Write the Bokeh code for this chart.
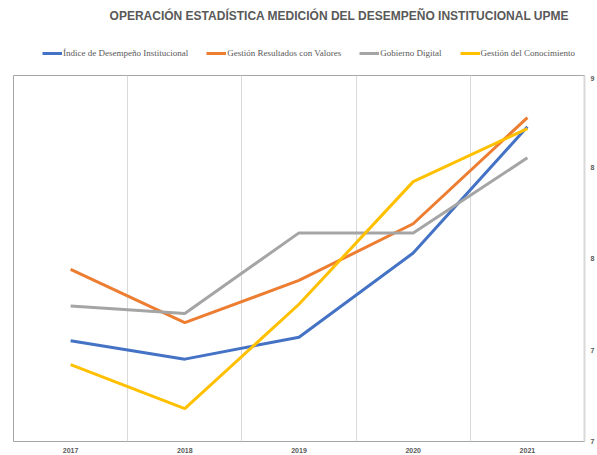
from bokeh.plotting import figure
from bokeh.layouts import column
from bokeh.models import Range1d, FixedTicker, Legend, LegendItem, Label
from bokeh.embed import file_html
from bokeh.resources import INLINE

years = ["2017", "2018", "2019", "2020", "2021"]
indice = [7.55, 7.45, 7.57, 8.03, 8.72]
resultados = [7.94, 7.65, 7.88, 8.19, 8.77]
gobierno = [7.74, 7.70, 8.14, 8.14, 8.55]
conocimiento = [7.42, 7.18, 7.75, 8.42, 8.71]
series_names = ["Índice de Desempeño Institucional", "Gestión Resultados con Valores",
                "Gobierno Digital", "Gestión del Conocimiento"]
y_ticks = [7, 7.5, 8, 8.5, 9]
y_tick_labels = ["7", "7", "8", "8", "9"]
title_text = "OPERACIÓN ESTADÍSTICA MEDICIÓN DEL DESEMPEÑO INSTITUCIONAL UPME"

xs = list(range(len(years)))
colors = ["#4472C4", "#ED7D31", "#A5A5A5", "#FFC000"]
all_series = [indice, resultados, gobierno, conocimiento]

# ---------- header: title + legend ----------
head = figure(width=597, height=75, output_backend="svg", toolbar_location=None,
              x_axis_location=None, y_axis_location=None,
              x_range=Range1d(-0.5, len(years) - 0.5), y_range=Range1d(100, 101),
              min_border=0, outline_line_color=None)
head.xgrid.grid_line_color = None
head.ygrid.grid_line_color = None
head.border_fill_color = "white"

items = []
for vals, c, name in zip(all_series, colors, series_names):
    r = head.line(xs, vals, line_color=c, line_width=3)
    items.append(LegendItem(label=name, renderers=[r]))

legend = Legend(items=items, orientation="horizontal", location=(29, 17),
                padding=0, margin=0, spacing=18, label_standoff=1,
                glyph_width=20, glyph_height=10, border_line_color=None,
                background_fill_alpha=0,
                label_text_font="Liberation Serif", label_text_font_size="9px",
                label_text_color="#595959")
head.add_layout(legend, "center")

title = Label(x=326, y=60, x_units="screen", y_units="screen",
              text=title_text, text_align="center", text_baseline="middle",
              text_font="Liberation Sans", text_font_size="12px",
              text_font_style="bold", text_color="#595959")
head.add_layout(title)

# ---------- main chart ----------
p = figure(width=597, height=380, output_backend="svg", toolbar_location=None,
           x_range=Range1d(-0.5, len(years) - 0.5), y_range=Range1d(7, 9),
           y_axis_location="right", min_border_left=13, min_border_top=0,
           min_border_right=0, min_border_bottom=0,
           outline_line_color="#a6a6a6", outline_line_width=1)
p.border_fill_color = "white"

for vals, c in zip(all_series, colors):
    p.line(xs, vals, line_color=c, line_width=3)

p.xgrid.ticker = FixedTicker(ticks=[i + 0.5 for i in xs[:-1]])
p.xgrid.grid_line_color = "#d9d9d9"
p.ygrid.grid_line_color = None

p.xaxis.ticker = FixedTicker(ticks=xs)
p.xaxis.major_label_overrides = {i: y for i, y in zip(xs, years)}
p.xaxis.axis_line_color = None
p.xaxis.major_tick_line_color = None
p.xaxis.minor_tick_line_color = None
p.xaxis.major_label_text_font = "Liberation Sans"
p.xaxis.major_label_text_font_size = "7px"
p.xaxis.major_label_text_font_style = "bold"
p.xaxis.major_label_text_color = "#595959"
p.xaxis.major_label_standoff = 0

p.yaxis.ticker = FixedTicker(ticks=y_ticks)
p.yaxis.major_label_overrides = {t: l for t, l in zip(y_ticks, y_tick_labels)}
p.yaxis.axis_line_color = "#d9d9d9"
p.yaxis.axis_line_width = 2
p.yaxis.major_tick_line_color = None
p.yaxis.minor_tick_line_color = None
p.yaxis.major_label_text_font = "Liberation Sans"
p.yaxis.major_label_text_font_size = "7px"
p.yaxis.major_label_text_font_style = "bold"
p.yaxis.major_label_text_color = "#595959"
p.yaxis.major_label_standoff = 0

layout = column(head, p, spacing=0)
open("out.html", "w").write(file_html(layout, INLINE))
